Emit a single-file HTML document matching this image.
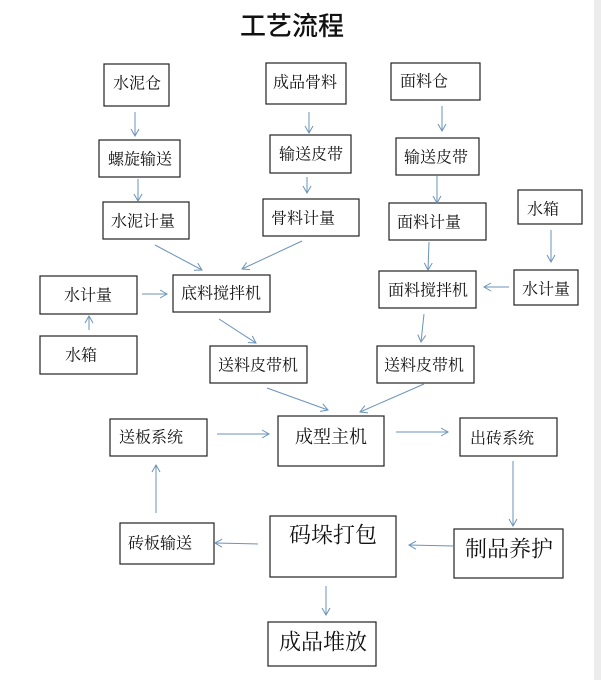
<!DOCTYPE html>
<html><head><meta charset="utf-8"><style>
html,body{margin:0;padding:0;background:#fff;}
svg{display:block;}
text{font-family:"Liberation Serif","Noto Serif CJK SC",serif;fill:#111;dominant-baseline:central;}
</style></head><body>
<svg width="601" height="680" viewBox="0 0 601 680" xmlns="http://www.w3.org/2000/svg">
<defs>
<marker id="a" markerWidth="10" markerHeight="10" refX="8" refY="5" orient="auto" markerUnits="userSpaceOnUse">
<path d="M1,1 L8,5 L1,9" fill="none" stroke="#6a93ba" stroke-width="1"/>
</marker>
</defs>
<rect x="594" y="0" width="7" height="680" fill="#ececec"/>
<text x="240" y="26" font-size="26" style="font-family:'Liberation Sans','Noto Sans CJK SC',sans-serif;font-weight:500">工艺流程</text>
<g fill="none" stroke="#222" stroke-width="1.2">
<rect x="104" y="64" width="65" height="42"/>
<rect x="266" y="63" width="80" height="41"/>
<rect x="391" y="63" width="89" height="37"/>
<rect x="99" y="140" width="81" height="37"/>
<rect x="270" y="135" width="81" height="38"/>
<rect x="396" y="138" width="83" height="37"/>
<rect x="103" y="202" width="86" height="37"/>
<rect x="263" y="199" width="96" height="37"/>
<rect x="389" y="203" width="97" height="37"/>
<rect x="518" y="190" width="64" height="34"/>
<rect x="40" y="276" width="97" height="38"/>
<rect x="173" y="275" width="97" height="37"/>
<rect x="379" y="271" width="97" height="37"/>
<rect x="514" y="270" width="64" height="35"/>
<rect x="40" y="336" width="97" height="38"/>
<rect x="210" y="346" width="97" height="37"/>
<rect x="377" y="346" width="97" height="37"/>
<rect x="110" y="419" width="97" height="37"/>
<rect x="278" y="416" width="106" height="50"/>
<rect x="460" y="418" width="97" height="38"/>
<rect x="120" y="523" width="94" height="41"/>
<rect x="270" y="516" width="126" height="61"/>
<rect x="454" y="529" width="109" height="49"/>
<rect x="268" y="622" width="108" height="44"/>
</g>
<g font-size="16">
<text x="113" y="84">水泥仓</text>
<text x="273" y="83">成品骨料</text>
<text x="400" y="82">面料仓</text>
<text x="108" y="160">螺旋输送</text>
<text x="279" y="155">输送皮带</text>
<text x="404" y="158">输送皮带</text>
<text x="111" y="222">水泥计量</text>
<text x="271" y="219">骨料计量</text>
<text x="397" y="223">面料计量</text>
<text x="527" y="210">水箱</text>
<text x="64" y="296">水计量</text>
<text x="181" y="294">底料搅拌机</text>
<text x="388" y="291">面料搅拌机</text>
<text x="522" y="290">水计量</text>
<text x="65" y="356">水箱</text>
<text x="218" y="366">送料皮带机</text>
<text x="384" y="366">送料皮带机</text>
<text x="119" y="438">送板系统</text>
<text x="295" y="437" font-size="18">成型主机</text>
<text x="470" y="439">出砖系统</text>
<text x="128" y="544">砖板输送</text>
<text x="289" y="535" font-size="22">码垛打包</text>
<text x="465" y="549" font-size="22">制品养护</text>
<text x="279" y="642" font-size="22">成品堆放</text>
</g>
<g stroke="#6a93ba" stroke-width="1" marker-end="url(#a)">
<line x1="135" y1="112" x2="135" y2="136"/>
<line x1="138" y1="179" x2="138" y2="201"/>
<line x1="309" y1="112" x2="309" y2="133"/>
<line x1="307" y1="177" x2="307" y2="193"/>
<line x1="442" y1="106" x2="442" y2="131"/>
<line x1="437" y1="176" x2="437" y2="203"/>
<line x1="551" y1="230" x2="551" y2="262"/>
<line x1="155" y1="245" x2="202" y2="270"/>
<line x1="302" y1="241" x2="242" y2="269"/>
<line x1="142" y1="294" x2="167" y2="294"/>
<line x1="89" y1="330" x2="89" y2="316"/>
<line x1="429" y1="242" x2="428" y2="270"/>
<line x1="509" y1="287" x2="484" y2="287"/>
<line x1="424" y1="314" x2="421" y2="342"/>
<line x1="219" y1="319" x2="256" y2="343"/>
<line x1="267" y1="388" x2="328" y2="410"/>
<line x1="424" y1="384" x2="360" y2="412"/>
<line x1="217" y1="434" x2="269" y2="434"/>
<line x1="396" y1="432" x2="448" y2="432"/>
<line x1="513" y1="461" x2="513" y2="526"/>
<line x1="453" y1="546" x2="409" y2="545"/>
<line x1="258" y1="544" x2="215" y2="543"/>
<line x1="156" y1="513" x2="156" y2="465"/>
<line x1="326" y1="586" x2="326" y2="615"/>
</g>
</svg>
</body></html>
